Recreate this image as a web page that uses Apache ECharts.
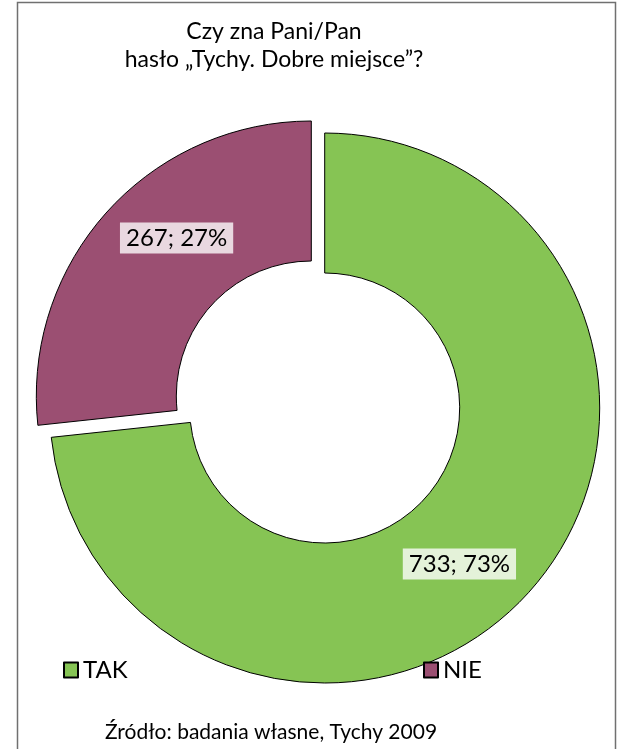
<!DOCTYPE html>
<html>
<head>
<meta charset="utf-8">
<script src="https://cdn.jsdelivr.net/npm/echarts@6/dist/echarts.min.js"></script>
<style>
  html, body { margin: 0; padding: 0; background: #fff; }
  #chart { width: 619px; height: 749px; }
</style>
</head>
<body>
<div id="chart"></div>
<script>
// answers to the question, survey Tychy 2009
const categories = ['TAK', 'NIE'];
const counts = [733, 267];
const colors = ['#86c454', '#9b4f72'];

const titleText = 'Czy zna Pani/Pan\nhasło „Tychy. Dobre miejsce”?';
const sourceText = 'Źródło: badania własne, Tychy 2009';

const font = 'Lato';

const chart = echarts.init(document.getElementById('chart'));

const legendText = {
    fontFamily: font,
    fontSize: 24,
    color: '#000',
    rich: { a: { fontFamily: font, fontSize: 24, color: '#000' } }
};

const option = {
    animation: false,
    backgroundColor: '#fff',
    title: [
        {
            text: titleText,
            left: 269,
            top: 13,
            textAlign: 'center',
            textStyle: {
                fontFamily: font,
                fontSize: 23,
                fontWeight: 'normal',
                color: '#000',
                lineHeight: 28
            }
        },
        {
            text: sourceText,
            left: 266,
            top: 717,
            textAlign: 'center',
            textStyle: {
                fontFamily: font,
                fontSize: 21,
                fontWeight: 'normal',
                color: '#000'
            }
        }
    ],
    legend: [
        {
            data: [categories[0]],
            left: 58,
            top: 653,
            icon: 'rect',
            itemWidth: 14,
            itemHeight: 15,
            itemGap: 4,
            formatter: n => '{a|' + n + '}',
            textStyle: legendText
        },
        {
            data: [categories[1]],
            left: 418,
            top: 653,
            icon: 'rect',
            itemWidth: 14,
            itemHeight: 15,
            itemGap: 4,
            formatter: n => '{a|' + n + '}',
            textStyle: legendText
        }
    ],
    graphic: [
        {
            type: 'rect',
            shape: { x: 17.5, y: 2.5, width: 598, height: 800 },
            style: { fill: 'none', stroke: '#707070', lineWidth: 1.5 },
            silent: true
        }
    ],
    series: [
        {
            type: 'pie',
            center: [318, 402],
            radius: [135, 275],
            startAngle: 90,
            clockwise: true,
            selectedMode: 'multiple',
            selectedOffset: 9,
            percentPrecision: 0,
            avoidLabelOverlap: false,
            itemStyle: {
                borderColor: '#000',
                borderWidth: 1
            },
            label: {
                show: true,
                position: 'inside',
                fontFamily: font,
                fontSize: 24,
                color: '#000',
                backgroundColor: 'rgba(255,255,255,0.78)',
                padding: [4, 6, 3, 6],
                formatter: p => p.value + '; ' + p.percent + '%'
            },
            labelLayout: p => p.dataIndex === 0 ? { dx: -20, dy: 17 } : { dx: 20, dy: -19 },
            labelLine: { show: false },
            emphasis: { disabled: true },
            data: categories.map((name, i) => ({
                name: name,
                value: counts[i],
                selected: true,
                itemStyle: { color: colors[i] }
            }))
        }
    ]
};

chart.setOption(option);
</script>
</body>
</html>
